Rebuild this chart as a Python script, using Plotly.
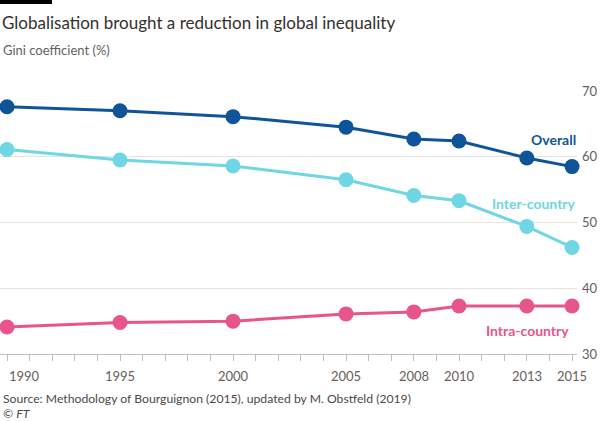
import plotly.graph_objects as go

years = [1990, 1995, 2000, 2005, 2008, 2010, 2013, 2015]
overall = [67.6, 67.0, 66.1, 64.5, 62.7, 62.4, 59.8, 58.5]
inter_country = [61.1, 59.5, 58.6, 56.5, 54.1, 53.3, 49.4, 46.2]
intra_country = [34.1, 34.8, 35.0, 36.1, 36.4, 37.3, 37.3, 37.3]
x_tick_labels = ["1990", "1995", "2000", "2005", "2008", "2010", "2013", "2015"]
y_ticks = [30, 40, 50, 60, 70]

C_OVERALL = "#0f5499"
C_INTER = "#6fd6e3"
C_INTRA = "#e8558b"
FONT = "Lato"

fig = go.Figure()
for name, vals, col in [("Overall", overall, C_OVERALL),
                        ("Inter-country", inter_country, C_INTER),
                        ("Intra-country", intra_country, C_INTRA)]:
    fig.add_trace(go.Scatter(x=years, y=vals, mode="lines+markers", name=name,
                             line=dict(color=col, width=3),
                             marker=dict(color=col, size=15),
                             cliponaxis=False, showlegend=False))

W, H = 600, 421
L, R, T, B = 0, 23, 91, 67
pw, ph = W - L - R, H - T - B

def px_x(px):
    return (px - L) / pw

def px_y(py):
    return (H - B - py) / ph

annotations = []
# series labels
annotations.append(dict(x=px_x(578), y=62.7, xref="paper", yref="y", text="<b>Overall</b>",
                        showarrow=False, xanchor="right", yanchor="middle",
                        font=dict(family=FONT, size=14, color=C_OVERALL)))
annotations.append(dict(x=px_x(578), y=52.9, xref="paper", yref="y", text="<b>Inter-country</b>",
                        showarrow=False, xanchor="right", yanchor="middle",
                        font=dict(family=FONT, size=14, color=C_INTER)))
annotations.append(dict(x=px_x(571), y=33.5, xref="paper", yref="y", text="<b>Intra-country</b>",
                        showarrow=False, xanchor="right", yanchor="middle",
                        font=dict(family=FONT, size=14, color=C_INTRA)))
# x tick labels
for yr, lab in zip(years, x_tick_labels):
    annotations.append(dict(x=yr, y=px_y(376), xref="x", yref="paper", text=lab,
                            showarrow=False, xanchor="left" if yr == years[0] else "center",
                            yanchor="middle",
                            font=dict(family=FONT, size=13, color="#66605c")))
# title, subtitle, source
annotations.append(dict(x=px_x(0), y=px_y(22), xref="paper", yref="paper",
                        text="Globalisation brought a reduction in global inequality",
                        showarrow=False, xanchor="left", yanchor="middle",
                        font=dict(family=FONT, size=17, color="#33302e")))
annotations.append(dict(x=px_x(1), y=px_y(50), xref="paper", yref="paper",
                        text="Gini coefficient (%)",
                        showarrow=False, xanchor="left", yanchor="middle",
                        font=dict(family=FONT, size=13, color="#66605c")))
annotations.append(dict(x=px_x(1), y=px_y(398), xref="paper", yref="paper",
                        text="Source: Methodology of Bourguignon (2015), updated by M. Obstfeld (2019)",
                        showarrow=False, xanchor="left", yanchor="middle",
                        font=dict(family=FONT, size=12.2, color="#4d4845")))
annotations.append(dict(x=px_x(1), y=px_y(413), xref="paper", yref="paper",
                        text="© <i>FT</i>",
                        showarrow=False, xanchor="left", yanchor="middle",
                        font=dict(family=FONT, size=12.2, color="#4d4845")))

shapes = [dict(type="rect", xref="paper", yref="paper",
               x0=px_x(0), x1=px_x(52), y0=px_y(4), y1=px_y(0),
               fillcolor="#000000", line=dict(width=0))]

fig.update_layout(
    width=W, height=H,
    margin=dict(l=L, r=R, t=T, b=B),
    paper_bgcolor="white", plot_bgcolor="white",
    font=dict(family=FONT),
    xaxis=dict(range=[1989.69, 2015.22], tickmode="array", tickvals=years,
               showticklabels=False, ticks="outside", ticklen=6,
               tickcolor="#c4beb9", tickwidth=1,
               minor=dict(dtick=1, tick0=1990, ticks="outside", ticklen=6,
                          tickcolor="#c4beb9", showgrid=False),
               showgrid=False, showline=True, linecolor="#c4beb9", linewidth=1,
               zeroline=False, fixedrange=True),
    yaxis=dict(range=[30, 70], side="right", tickvals=y_ticks,
               ticks="", showgrid=True, gridcolor="#e6e2de", gridwidth=1,
               tickfont=dict(family=FONT, size=13, color="#66605c"),
               ticklabelstandoff=4, zeroline=False, showline=False, fixedrange=True),
    annotations=annotations,
    shapes=shapes,
)

fig.write_html("out.html")
